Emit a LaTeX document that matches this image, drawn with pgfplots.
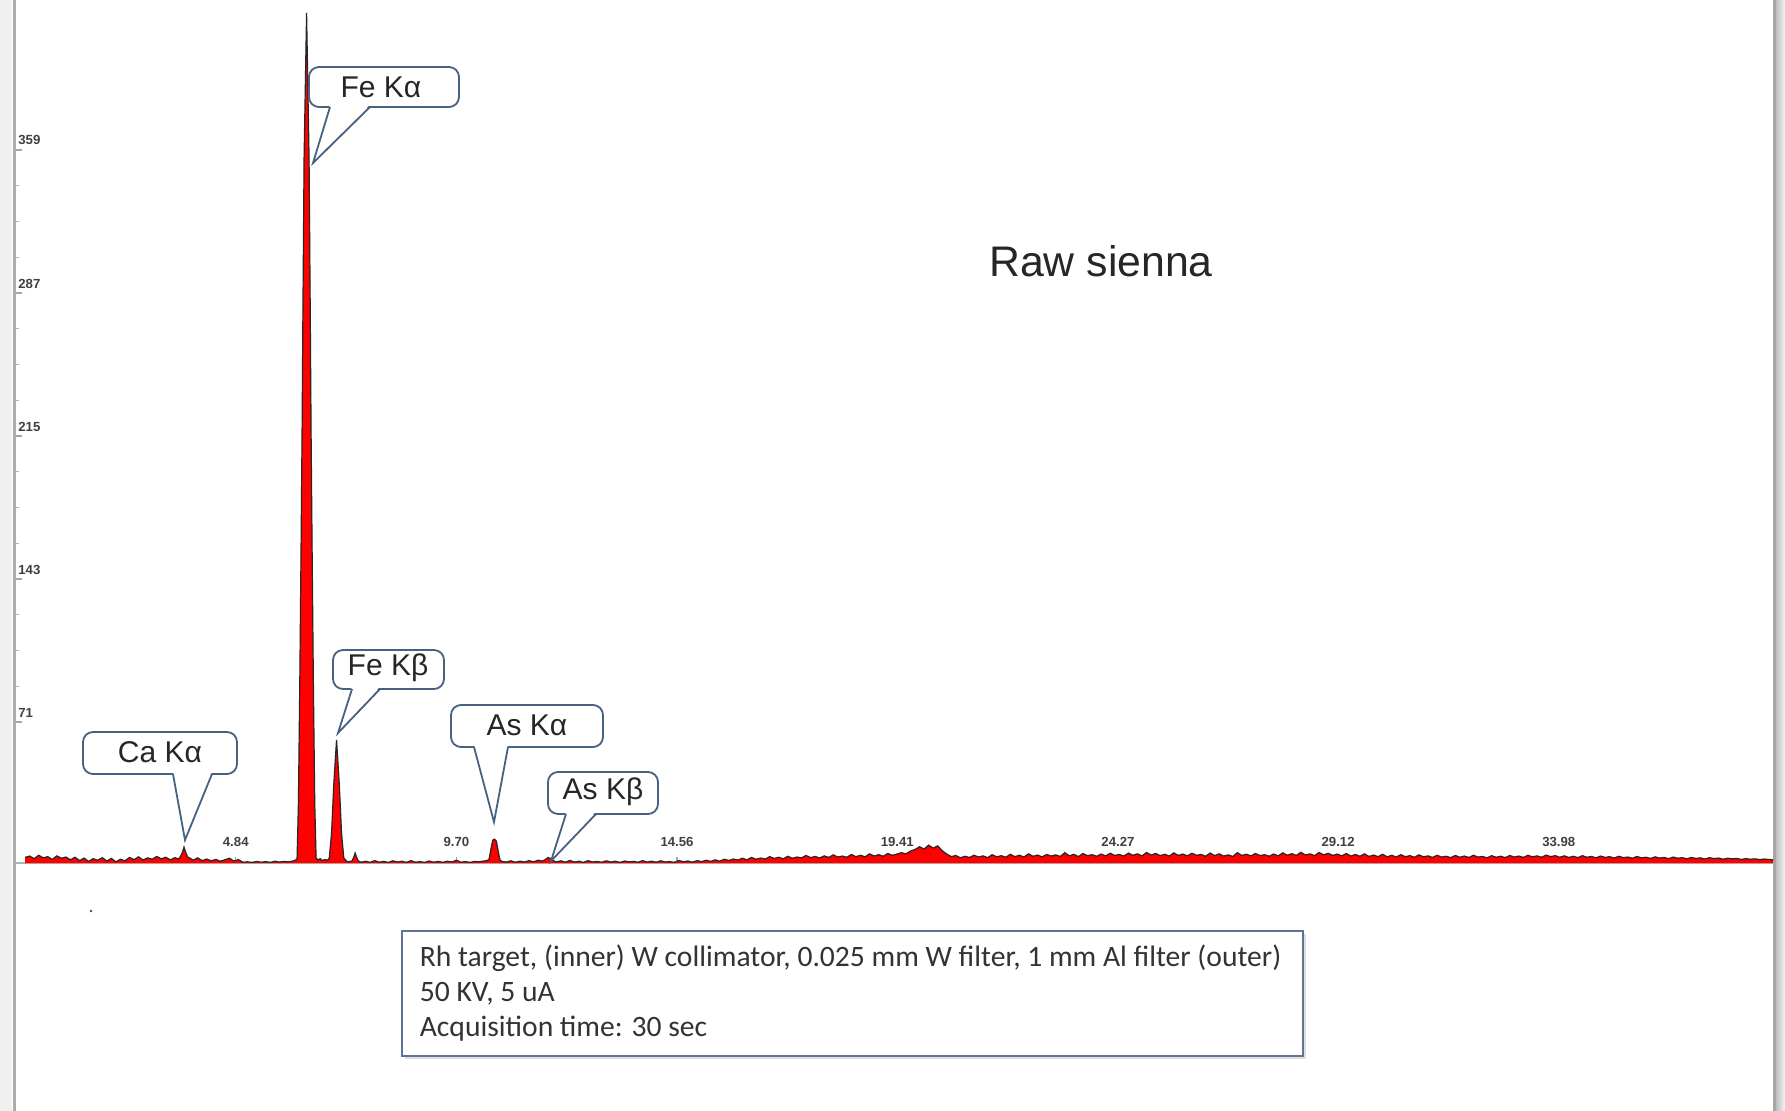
\documentclass[border=0pt]{standalone}
\usepackage{pgfplots}
\usepackage{pgfplotstable}
\pgfplotsset{compat=1.18}
\usepackage{fontspec}
\setmainfont{Liberation Sans}
\newfontfamily\carlito{Carlito}
\definecolor{callout}{RGB}{70,98,128}
\definecolor{boxline}{RGB}{95,115,150}
\newcommand\tickfont{\fontsize{3.3}{4}\selectfont\bfseries\color{black!75}}
\newcommand\callfont{\fontsize{7.5}{9}\selectfont\color{black!85}}
\newcommand\callout[8]{%
  \draw[callout, line width=0.45pt, fill=white, rounded corners=2.5pt] (#1,#2) rectangle (#3,#4);
  \fill[white] (#5,#4-2.5) -- (#7,#8) -- (#6,#4-2.5) -- cycle;
  \draw[callout, line width=0.45pt, line join=miter] (#5,#4) -- (#7,#8) -- (#6,#4);
}
\pgfplotstableread{
x y
0.2 2.8
0.3 3.5
0.4 2.2
0.5 3.9
0.6 2.6
0.7 3.2
0.8 1.8
0.9 3.6
1.0 2.4
1.1 3.0
1.2 1.6
1.3 2.9
1.4 1.2
1.5 2.5
1.6 0.8
1.7 2.2
1.8 1.4
1.9 2.7
2.0 1.0
2.1 2.3
2.2 0.6
2.3 1.9
2.4 1.1
2.5 2.8
2.6 1.7
2.7 3.1
2.8 1.5
2.9 2.6
3.0 1.9
3.1 3.3
3.2 2.1
3.3 2.9
3.4 1.6
3.5 2.7
3.58 2.0
3.62 3.2
3.66 5.0
3.70 8.0
3.74 5.2
3.78 3.0
3.85 2.2
3.9 1.4
4.0 2.6
4.1 1.2
4.2 2.0
4.3 1.1
4.4 1.8
4.5 0.9
4.6 1.6
4.7 2.4
4.8 1.0
4.9 1.7
5.0 0.4
5.1 0.6
5.2 0.3
5.3 0.8
5.4 0.4
5.5 0.7
5.6 0.3
5.7 0.9
5.8 0.5
5.9 0.8
6.0 0.6
6.1 1.0
6.16 1.5
6.19 2.0
6.22 30
6.25 90
6.275 150
6.30 215
6.32 280
6.345 355
6.40 428
6.455 355
6.48 280
6.50 215
6.525 150
6.55 90
6.58 30
6.61 2.5
6.65 1.5
6.70 2.2
6.75 1.2
6.80 1.8
6.86 1.4
6.90 2.5
6.95 15
7.00 40
7.06 62
7.12 40
7.17 15
7.22 2.5
7.27 1.2
7.31 0.6
7.36 0.8
7.40 1.0
7.44 3.0
7.47 5.0
7.50 3.0
7.54 1.0
7.6 0.4
7.7 0.9
7.8 0.3
7.9 1.2
8.0 0.4
8.1 0.8
8.2 0.3
8.3 1.1
8.4 0.5
8.5 0.9
8.6 0.3
8.7 1.2
8.8 0.4
8.9 0.7
9.0 0.3
9.1 1.0
9.2 0.4
9.3 0.8
9.4 0.3
9.5 0.9
9.6 0.5
9.7 1.4
9.8 0.4
9.9 0.7
10.0 0.3
10.1 0.8
10.2 0.6
10.3 1.0
10.38 1.2
10.42 2.0
10.46 7.0
10.50 11.5
10.54 12.0
10.58 11.0
10.62 6.0
10.66 1.5
10.7 0.8
10.8 0.5
10.9 1.1
11.0 0.4
11.1 0.9
11.2 0.5
11.3 1.2
11.4 0.6
11.5 1.4
11.6 1.0
11.66 1.8
11.72 2.8
11.78 2.2
11.85 1.0
11.9 0.5
12.0 1.1
12.1 0.4
12.2 1.3
12.3 0.5
12.4 0.9
12.5 0.3
12.6 1.2
12.7 0.5
12.8 0.8
12.9 0.4
13.0 1.1
13.1 0.5
13.2 0.9
13.3 0.3
13.4 1.0
13.5 0.6
13.6 0.8
13.7 0.4
13.8 1.2
13.9 0.5
14.0 0.9
14.1 0.4
14.2 1.1
14.3 0.5
14.4 0.7
14.5 0.3
14.6 1.3
14.7 0.6
14.8 1.0
14.9 0.4
15.0 1.2
15.1 0.7
15.2 1.4
15.3 0.8
15.4 1.6
15.5 0.9
15.6 1.9
15.7 1.3
15.8 2.0
15.9 1.5
16.0 2.4
16.1 1.6
16.2 2.8
16.3 1.9
16.4 2.5
16.5 2.0
16.6 3.2
16.7 2.3
16.8 2.9
16.9 2.1
17.0 3.4
17.1 2.4
17.2 3.0
17.3 2.6
17.4 3.8
17.5 2.7
17.6 3.3
17.7 2.5
17.8 3.6
17.9 2.8
18.0 4.1
18.1 3.0
18.2 3.5
18.3 2.9
18.4 4.3
18.5 3.2
18.6 3.9
18.7 3.1
18.8 4.6
18.9 3.5
19.0 4.2
19.1 3.4
19.2 4.8
19.3 3.9
19.4 4.5
19.5 5.2
19.6 4.6
19.7 6.0
19.8 6.8
19.9 8.2
20.0 7.0
20.1 9.0
20.2 7.5
20.3 8.6
20.4 6.2
20.5 4.5
20.6 3.2
20.7 3.8
20.8 2.6
20.9 3.4
21.0 2.8
21.1 3.9
21.2 3.0
21.3 3.6
21.4 2.7
21.5 4.2
21.6 3.1
21.7 3.7
21.8 2.9
21.9 4.4
22.0 3.2
22.1 3.9
22.2 3.0
22.3 4.6
22.4 3.4
22.5 4.0
22.6 3.1
22.7 4.3
22.8 3.5
22.9 4.1
23.0 3.3
23.1 5.2
23.2 3.6
23.3 4.4
23.4 3.2
23.5 4.8
23.6 3.7
23.7 4.2
23.8 3.4
23.9 4.5
24.0 3.6
24.1 4.9
24.2 3.8
24.3 4.3
24.4 3.5
24.5 5.0
24.6 3.9
24.7 4.6
24.8 3.6
24.9 5.3
25.0 4.0
25.1 4.8
25.2 3.7
25.3 4.4
25.4 3.5
25.5 5.1
25.6 3.8
25.7 4.5
25.8 3.6
25.9 4.9
26.0 3.9
26.1 4.3
26.2 3.4
26.3 5.0
26.4 3.7
26.5 4.6
26.6 3.5
26.7 4.1
26.8 3.3
26.9 5.2
27.0 3.8
27.1 4.4
27.2 3.6
27.3 4.8
27.4 3.7
27.5 4.2
27.6 3.4
27.7 4.5
27.8 3.6
27.9 5.1
28.0 3.9
28.1 4.7
28.2 3.8
28.3 5.4
28.4 4.0
28.5 4.6
28.6 3.7
28.7 5.3
28.8 4.1
28.9 4.9
29.0 3.8
29.1 4.5
29.2 3.6
29.3 4.8
29.4 3.5
29.5 4.3
29.6 3.4
29.7 4.6
29.8 3.3
29.9 4.0
30.0 3.2
30.1 4.4
30.2 3.1
30.3 3.9
30.4 3.0
30.5 4.2
30.6 3.2
30.7 3.7
30.8 2.9
30.9 4.1
31.0 3.1
31.1 3.6
31.2 2.8
31.3 3.9
31.4 3.0
31.5 3.4
31.6 2.7
31.7 3.8
31.8 2.9
31.9 3.5
32.0 2.8
32.1 3.9
32.2 3.0
32.3 3.3
32.4 2.6
32.5 3.7
32.6 2.9
32.7 3.4
32.8 2.7
32.9 3.8
33.0 3.0
33.1 3.5
33.2 2.8
33.3 3.9
33.4 3.1
33.5 3.6
33.6 2.9
33.7 4.0
33.8 3.2
33.9 3.7
34.0 2.9
34.1 3.6
34.2 2.8
34.3 3.4
34.4 2.7
34.5 3.7
34.6 2.9
34.7 3.3
34.8 2.6
34.9 3.5
35.0 2.8
35.1 3.2
35.2 2.5
35.3 3.4
35.4 2.7
35.5 3.0
35.6 2.4
35.7 3.3
35.8 2.6
35.9 2.9
36.0 2.3
36.1 3.1
36.2 2.5
36.3 2.8
36.4 2.2
36.5 3.0
36.6 2.4
36.7 2.7
36.8 2.1
36.9 2.8
37.0 2.3
37.1 2.6
37.2 2.0
37.3 2.7
37.4 2.2
37.5 2.5
37.6 1.9
37.7 2.4
37.8 2.1
37.9 2.3
38.0 1.8
38.1 2.2
38.2 1.9
38.3 2.1
38.4 1.7
38.5 2.0
38.6 1.8
38.7 1.6
}\spectrum
\begin{document}
\begin{tikzpicture}
\useasboundingbox (0pt,0pt) rectangle (446.25pt,-277.75pt);
\fill[white] (0pt,0pt) rectangle (446.25pt,-277.75pt);
\begin{scope}[x=0.25pt, y=-0.25pt]
  % page edges
  \fill[gray!12] (0,0) rectangle (12,1111);
  \draw[gray!65, line width=0.8pt] (14.5,0) -- (14.5,1111);
  \shade[left color=gray!55, right color=gray!8] (1775,0) rectangle (1785,1111);
  \draw[gray!70, line width=0.8pt] (1774.5,0) -- (1774.5,1111);
\end{scope}
\begin{axis}[
  at={(4pt,-215.75pt)}, anchor=south west,
  width=439.5pt, height=215.75pt, scale only axis,
  xmin=0, xmax=38.72, ymin=0, ymax=434.5,
  axis x line*=bottom, axis y line*=left,
  x axis line style={draw=gray!60, line width=0.3pt, -},
  y axis line style={draw=none},
  xtick={4.84,9.70,14.56,19.41,24.27,29.12,33.98},
  xticklabels={4.84,9.70,14.56,19.41,24.27,29.12,33.98},
  ytick={71,143,215,287,359},
  yticklabels={71,143,215,287,359},
  tick align=inside,
  major tick length=1.6pt, minor tick length=0.8pt,
  minor x tick num=9, minor y tick num=3,
  every tick/.style={gray!70, line width=0.3pt},
  every minor tick/.style={gray!60, line width=0.25pt},
  xticklabel style={anchor=south, yshift=0.6pt, font=\tickfont},
  yticklabel style={anchor=south west, inner sep=0.4pt, xshift=0pt, yshift=0.6pt, font=\tickfont},
  /pgf/number format/assume math mode=true,
  clip=false,
]
\addplot[draw=none, fill=red] table {\spectrum} \closedcycle;
\addplot[draw=black!85, line width=0.3pt] table {\spectrum};
\end{axis}
\begin{scope}[x=0.25pt, y=-0.25pt]
  % callouts
  \callout{309}{67}{459}{107}{330}{370}{313}{163}
  \node[font=\callfont] at (381,87) {Fe Kα};
  \callout{333}{650}{444}{689}{352}{380}{338}{733}
  \node[font=\callfont] at (388,668) {Fe Kβ};
  \callout{83}{732}{237}{774}{173}{212}{185}{840}
  \node[font=\callfont] at (160,752) {Ca Kα};
  \callout{451}{705}{603}{747}{474}{508}{494}{822}
  \node[font=\callfont] at (527,725) {As Kα};
  \callout{548}{772}{658}{814}{566}{596}{551}{861}
  \node[font=\callfont] at (603,792) {As Kβ};
  % title
  \node[font=\fontsize{10.7}{12}\selectfont, text=black!85] at (1101,261) {Raw sienna};
  % info box
  \fill[gray!25] (405,934) rectangle (1306,1059);
  \draw[boxline, line width=0.5pt, fill=white] (402,931) rectangle (1303,1056);
  \begin{scope}[every node/.style={anchor=west, inner sep=0pt, font=\carlito\fontsize{7.4}{8}\selectfont, text=black!80}]
    \node at (419,958) {Rh target, (inner) W collimator, 0.025 mm W filter, 1 mm Al filter (outer)};
    \node at (419,994) {50 KV, 5 uA};
    \node at (419,1029) {Acquisition time: 30 sec};
  \end{scope}
  \fill[black!70] (91,911) circle (1.3);
\end{scope}
\end{tikzpicture}
\end{document}
